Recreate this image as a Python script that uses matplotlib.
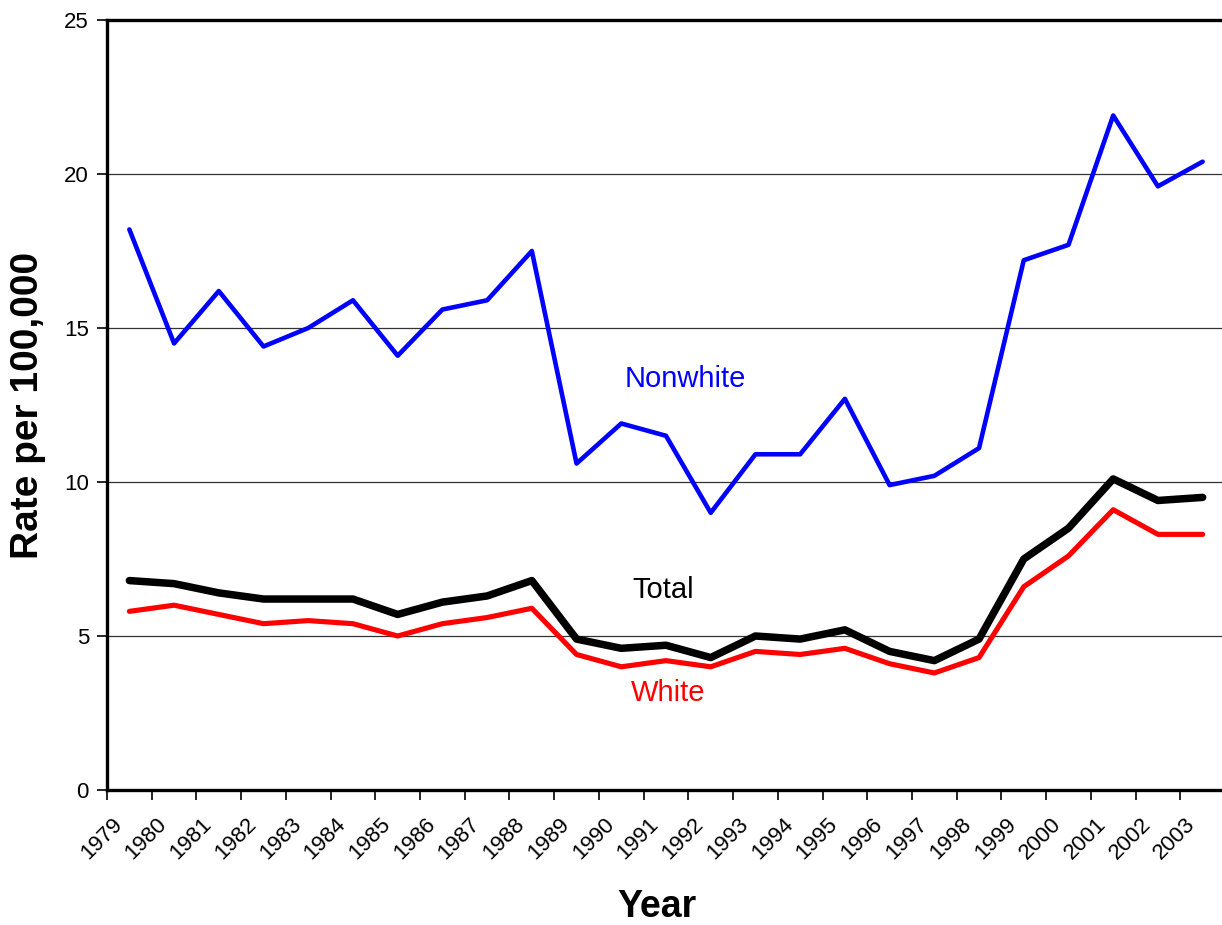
import numpy as np
import matplotlib
matplotlib.use("Agg")
import matplotlib.pyplot as plt
import matplotlib.transforms as mtransforms

plt.rcParams["font.family"] = ["Liberation Sans", "DejaVu Sans"]

# --- dados ---
years = [str(y) for y in range(1979, 2004)]
nonwhite = [18.2, 14.5, 16.2, 14.4, 15.0, 15.9, 14.1, 15.6, 15.9, 17.5,
            10.6, 11.9, 11.5, 9.0, 10.9, 10.9, 12.7, 9.9, 10.2, 11.1,
            17.2, 17.7, 21.9, 19.6, 20.4]
total = [6.8, 6.7, 6.4, 6.2, 6.2, 6.2, 5.7, 6.1, 6.3, 6.8,
         4.9, 4.6, 4.7, 4.3, 5.0, 4.9, 5.2, 4.5, 4.2, 4.9,
         7.5, 8.5, 10.1, 9.4, 9.5]
white = [5.8, 6.0, 5.7, 5.4, 5.5, 5.4, 5.0, 5.4, 5.6, 5.9,
         4.4, 4.0, 4.2, 4.0, 4.5, 4.4, 4.6, 4.1, 3.8, 4.3,
         6.6, 7.6, 9.1, 8.3, 8.3]
yticks = [0, 5, 10, 15, 20, 25]

fig = plt.figure(figsize=(12.22, 9.25), dpi=100)
ax = fig.add_axes([107 / 1222, 1 - 790 / 925, (1225 - 107) / 1222, (790 - 20) / 925])

# pontos ficam no meio de cada categoria
x = np.arange(len(years)) + 0.5
ax.plot(x, nonwhite, color="#0000ff", lw=3.3, solid_capstyle="round", zorder=3)
ax.plot(x, white, color="#ff0000", lw=3.7, solid_capstyle="round", zorder=3)
ax.plot(x, total, color="black", lw=5.4, solid_capstyle="round", zorder=4)

ax.set_xlim(0, len(years))
ax.set_ylim(0, 25)
ax.set_yticks(yticks)
ax.set_yticklabels([str(v) for v in yticks], fontsize=16)
ax.yaxis.grid(True, color="#333333", lw=0.9)
ax.set_axisbelow(True)

ax.tick_params(axis="both", direction="out", length=7, width=1.2, color="black")
ax.tick_params(axis="x", pad=6)
ax.tick_params(axis="y", pad=6)

ax.set_xticks(np.arange(len(years)))
ax.set_xticklabels(years, rotation=45, ha="right", va="center",
                   rotation_mode="anchor", fontsize=16)
# desloca os rótulos (depois do tick_params, que reseta o transform)
offset = mtransforms.ScaledTranslation(12 / 100, -13 / 100, fig.dpi_scale_trans)
for lab in ax.get_xticklabels():
    lab.set_transform(lab.get_transform() + offset)

for side in ["left", "bottom", "top"]:
    ax.spines[side].set_linewidth(2.4)
ax.spines["right"].set_visible(False)

ax.set_ylabel("Rate per 100,000", fontsize=28, fontweight="bold")
ax.yaxis.label.set_va("center")
ax.yaxis.set_label_coords((28 - 107) / 1118, 0.5)
ax.set_xlabel("Year", fontsize=27, fontweight="bold")
ax.xaxis.label.set_va("center")
ax.xaxis.set_label_coords((657 - 107) / 1118, (790 - 907) / 770)

ax.text(12.93, 13.34, "Nonwhite", color="#0000ff", fontsize=21, ha="center", va="center")
ax.text(12.44, 6.49, "Total", color="black", fontsize=21, ha="center", va="center")
ax.text(12.55, 3.15, "White", color="#ff0000", fontsize=21, ha="center", va="center")

fig.savefig("out.png", dpi=100)
